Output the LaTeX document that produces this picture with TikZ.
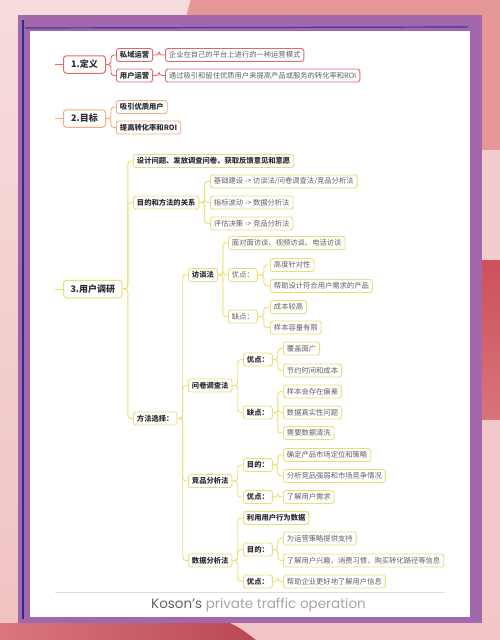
\documentclass[tikz,border=0pt]{standalone}
\usepackage{fontspec}
\newfontfamily\cjk{Noto Sans CJK SC}
\newfontfamily\brand{Poppins}
\usetikzlibrary{calc}
\definecolor{blush}{RGB}{243,205,205}
\definecolor{salmon}{RGB}{229,152,150}
\definecolor{rose}{RGB}{205,80,92}
\definecolor{plum}{RGB}{163,103,172}
\definecolor{navy}{RGB}{45,45,140}
\definecolor{redl}{RGB}{226,105,105}
\definecolor{orgl}{RGB}{244,172,128}
\definecolor{yell}{RGB}{233,223,115}
\definecolor{ink}{RGB}{45,45,50}
\tikzset{
  topic/.style={draw=#1,fill=white,rounded corners=3pt,line width=1pt,anchor=west,
    minimum height=17.5pt,inner xsep=7pt,inner ysep=0pt,text=ink,
    font=\cjk\bfseries\fontsize{9}{10}\selectfont},
  leafb/.style={draw=#1,fill=white,rounded corners=2.5pt,line width=.9pt,anchor=west,
    minimum height=13pt,inner xsep=3.5pt,inner ysep=0pt,text=ink,
    font=\cjk\bfseries\fontsize{7.3}{8}\selectfont},
  leafr/.style={leafb=#1,text=ink!75,font=\cjk\fontsize{7.3}{8}\selectfont},
  link/.style={draw=#1,line width=.9pt,rounded corners=3pt},
  elbow/.style={to path={(\tikztostart) -- ($(\tikztostart)!.5!(\tikztostart -| \tikztotarget)$) |- (\tikztotarget)}},
}
\begin{document}
\begin{tikzpicture}[x=1pt,y=-1pt]
  \useasboundingbox (0,0) rectangle (500,640);
  % backdrop
  \shade[top color=blush!70!white,bottom color=blush!80!salmon] (0,0) rectangle (500,640);
  \fill[salmon] (520,100) circle[radius=344pt];
  \fill[blush] (482,150) rectangle (500,260);
  \shade[top color=rose,bottom color=rose!50!salmon] (482,260) rectangle (500,420);
  \fill[blush!90!salmon] (482,420) rectangle (500,640);
  \fill[blush!85!salmon] (200,623) rectangle (500,640);
  \shade[left color=rose!45!salmon,right color=rose!90!black] (0,623) -- (230,623) .. controls (240,628) .. (256,640) -- (0,640) -- cycle;
  % frame
  \fill[plum] (18,15) rectangle (482,623);
  \draw[navy,line width=2.5pt] (23,20) -- (23,619);
  \draw[navy!80!plum,line width=1.2pt] (25,28) -- (468,27);
  \fill[white] (30,31) rectangle (470,617);
  \draw[black!13,line width=.6pt] (55,592.5) -- (445,592.5);
  \node[font=\brand\fontsize{13.5}{15}\selectfont,text=black!35] (brand) at (258.5,605) {\textcolor{black!62}{Koson’s} private traffic operation};

  % 1. definition
  \node[topic=redl,minimum width=42pt] (def) at (63,64.5) {1.定义};
  \foreach \n/\y/\t in {priv/55/私域运营,user/75.5/用户运营}
    \node[leafb=redl] (\n) at (116,\y) {\t};
  \node[leafr=redl] (privtxt) at (165,55) {企业在自己的平台上进行的一种运营模式};
  \node[leafr=redl] (usertxt) at (165,75.5) {通过吸引和留住优质用户来提高产品或服务的转化率和ROI};
  \draw[link=redl] (def.west) -- ++(-8,0);
  \foreach \p/\c in {def/priv,def/user,priv/privtxt,user/usertxt}
    \draw[link=redl] (\p.east) to[elbow] (\c.west);

  % 2. goal
  \node[topic=orgl,minimum width=42pt] (goal) at (63,118.5) {2.目标};
  \foreach \n/\y/\t in {goal1/107/吸引优质用户,goal2/127.5/提高转化率和ROI}
    \node[leafb=orgl] (\n) at (116,\y) {\t};
  \draw[link=orgl] (goal.west) -- ++(-8,0);
  \foreach \c in {goal1,goal2}
    \draw[link=orgl] (goal.east) to[elbow] (\c.west);

  % 3. user research
  \node[topic=yell,minimum width=58pt] (res) at (63,289) {3.用户调研};
  \foreach \n/\x/\y/\t in {u1/133/161/{设计问题、发放调查问卷、获取反馈意见和意愿},u2/133/202.5/目的和方法的关系,
      u3/133/418.5/方法选择：,m1/188/275/访谈法,m2/188/385.5/问卷调查法,m3/188/481/竞品分析法,m4/188/560.5/数据分析法,
      q1/243/359.5/优点：,q2/243/412.5/缺点：,c1/243/465/目的：,c2/243/497/优点：,
      s0/243/518/利用用户行为数据,s1/243/549.5/目的：,s2/243/581.5/优点：}
    \node[leafb=yell] (\n) at (\x,\y) {\t};
  \foreach \n/\x/\y/\t in {u21/210/181.5/{基础建设 -> 访谈法/问卷调查法/竞品分析法},u22/210/202.5/{指标波动 -> 数据分析法},
      u23/210/223.5/{评估决策 -> 竞品分析法},i0/228/243/面对面访谈、视频访谈、电话访谈,i1/228/275/优点：,i2/228/316.5/缺点：,
      i11/270/265/高度针对性,i12/270/286/帮助设计符合用户需求的产品,i21/270/307/成本较高,i22/270/327.5/样本容量有限,
      q11/283/348.5/覆盖面广,q12/283/370.5/节约时间和成本,q21/283/391.5/样本会存在偏差,q22/283/412.5/数据真实性问题,
      q23/283/433/需要数据清洗,c11/283/455/确定产品市场定位和策略,c12/283/476/分析竞品强弱和市场竞争情况,
      c21/283/497/了解用户需求,s11/283/538.5/为运营策略提供支持,s12/283/560.5/了解用户兴趣、消费习惯、购买转化路径等信息,
      s21/283/581.5/帮助企业更好地了解用户信息}
    \node[leafr=yell] (\n) at (\x,\y) {\t};
  \draw[link=yell] (res.west) -- ++(-8,0);
  \foreach \p/\c in {res/u1,res/u2,res/u3,u2/u21,u2/u22,u2/u23,u3/m1,u3/m2,u3/m3,u3/m4,
      m1/i0,m1/i1,m1/i2,i1/i11,i1/i12,i2/i21,i2/i22,m2/q1,m2/q2,q1/q11,q1/q12,q2/q21,q2/q22,q2/q23,
      m3/c1,m3/c2,c1/c11,c1/c12,c2/c21,m4/s0,m4/s1,m4/s2,s1/s11,s1/s12,s2/s21}
    \draw[link=yell] (\p.east) to[elbow] (\c.west);
\end{tikzpicture}
\end{document}
